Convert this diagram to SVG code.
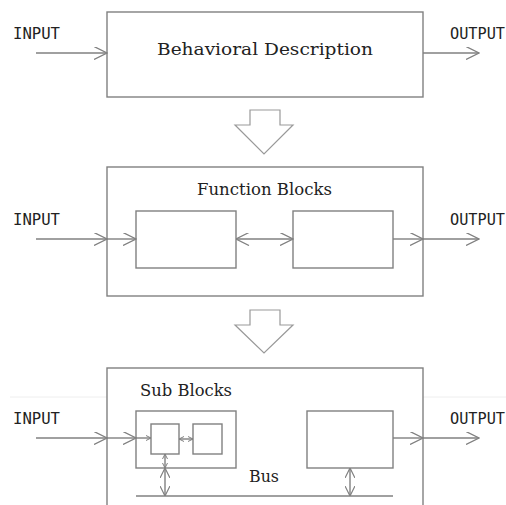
<svg xmlns="http://www.w3.org/2000/svg" width="506" height="505" viewBox="0 0 506 505">
<style>
.box{fill:#fff;stroke:#808080;stroke-width:1.4}
.ln{fill:none;stroke:#808080;stroke-width:1.4}
.mono{font-family:"DejaVu Sans Mono","Liberation Mono",monospace;font-size:15.5px;fill:#222}
.serif{font-family:"DejaVu Serif","Liberation Serif",serif;font-size:17px;fill:#222}
.big{fill:#fff;stroke:#999;stroke-width:1.2}
</style>
<defs>
<marker id="ah" viewBox="0 0 10 10" refX="10" refY="5" markerUnits="userSpaceOnUse" markerWidth="14" markerHeight="13" orient="auto-start-reverse">
<path d="M0,0 L10,5 L0,10" fill="none" stroke="#808080" stroke-width="1"/>
</marker>
<marker id="am" viewBox="0 0 10 10" refX="10" refY="5" markerUnits="userSpaceOnUse" markerWidth="10" markerHeight="10" orient="auto-start-reverse">
<path d="M0,0 L10,5 L0,10" fill="none" stroke="#808080" stroke-width="1.2"/>
</marker>
<marker id="as" viewBox="0 0 10 10" refX="10" refY="5" markerUnits="userSpaceOnUse" markerWidth="5" markerHeight="6" orient="auto-start-reverse">
<path d="M0,0 L10,5 L0,10" fill="none" stroke="#808080" stroke-width="2"/>
</marker>
</defs>
<line x1="10" y1="397" x2="107" y2="397" stroke="#eee" stroke-width="1"/>
<line x1="423" y1="397" x2="506" y2="397" stroke="#eee" stroke-width="1"/>

<g id="behavioral">
<rect class="box" x="107" y="12" width="316" height="85"/>
<text class="serif" x="157" y="55" textLength="216" lengthAdjust="spacingAndGlyphs">Behavioral Description</text>
</g>
<g id="arrow1"><path class="big" d="M250,110 H280 V125 H293 L264,154 L235,125 H250 Z"/></g>

<g id="function">
<rect class="box" x="107" y="167" width="316" height="129"/>
<text class="serif" x="197" y="195" textLength="135" lengthAdjust="spacingAndGlyphs">Function Blocks</text>
</g>
<g id="fb1"><rect class="box" x="136" y="211" width="100" height="57"/></g>
<g id="fb2"><rect class="box" x="293" y="211" width="100" height="57"/></g>
<g id="arrow2"><path class="big" d="M250,310 H280 V325 H293 L264,353 L235,325 H250 Z"/></g>

<g id="subblocks">
<rect class="box" x="107" y="368" width="316" height="160"/>
<text class="serif" x="140" y="396" textLength="92" lengthAdjust="spacingAndGlyphs">Sub Blocks</text>
</g>
<g id="sb1"><rect class="box" x="136" y="411" width="100" height="57"/></g>
<g id="sbA"><rect class="box" x="151" y="424" width="28" height="30"/></g>
<g id="sbB"><rect class="box" x="193" y="424" width="29" height="30"/></g>
<g id="sb2"><rect class="box" x="307" y="411" width="86" height="57"/></g>
<g id="bus"><line class="ln" x1="136" y1="496" x2="393" y2="496"/>
<text class="serif" x="249" y="482" textLength="30" lengthAdjust="spacingAndGlyphs">Bus</text></g>

<g id="labels">
<text class="mono" x="13" y="39" textLength="47" lengthAdjust="spacingAndGlyphs">INPUT</text>
<text class="mono" x="450" y="39" textLength="55" lengthAdjust="spacingAndGlyphs">OUTPUT</text>
<text class="mono" x="13" y="225" textLength="47" lengthAdjust="spacingAndGlyphs">INPUT</text>
<text class="mono" x="450" y="225" textLength="55" lengthAdjust="spacingAndGlyphs">OUTPUT</text>
<text class="mono" x="13" y="424" textLength="47" lengthAdjust="spacingAndGlyphs">INPUT</text>
<text class="mono" x="450" y="424" textLength="55" lengthAdjust="spacingAndGlyphs">OUTPUT</text>
</g>

<g id="connectors">
<line class="ln" x1="36" y1="53" x2="107" y2="53" marker-end="url(#ah)"/>
<line class="ln" x1="423" y1="53" x2="479" y2="53" marker-end="url(#ah)"/>

<line class="ln" x1="36" y1="239" x2="107" y2="239" marker-end="url(#ah)"/>
<line class="ln" x1="107" y1="239" x2="136" y2="239" marker-end="url(#ah)"/>
<line class="ln" x1="236" y1="239" x2="293" y2="239" marker-start="url(#ah)" marker-end="url(#ah)"/>
<line class="ln" x1="393" y1="239" x2="423" y2="239" marker-end="url(#ah)"/>
<line class="ln" x1="423" y1="239" x2="479" y2="239" marker-end="url(#ah)"/>

<line class="ln" x1="36" y1="438" x2="107" y2="438" marker-end="url(#ah)"/>
<line class="ln" x1="107" y1="438" x2="136" y2="438" marker-end="url(#ah)"/>
<line class="ln" x1="136" y1="438" x2="151" y2="438" marker-end="url(#as)"/>
<line class="ln" x1="179" y1="439" x2="193" y2="439" marker-start="url(#as)" marker-end="url(#as)"/>
<line class="ln" x1="165" y1="454" x2="165" y2="468" marker-start="url(#as)" marker-end="url(#as)"/>
<line class="ln" x1="165" y1="468" x2="165" y2="496" marker-start="url(#am)" marker-end="url(#am)"/>
<line class="ln" x1="350" y1="468" x2="350" y2="496" marker-start="url(#am)" marker-end="url(#am)"/>
<line class="ln" x1="393" y1="438" x2="423" y2="438" marker-end="url(#ah)"/>
<line class="ln" x1="423" y1="438" x2="479" y2="438" marker-end="url(#ah)"/>
</g>
</svg>
